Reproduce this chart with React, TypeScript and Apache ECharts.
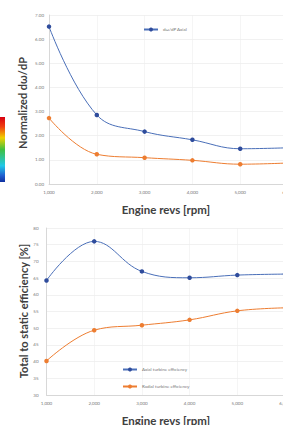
import React, { useEffect, useRef } from "react";
import * as echarts from "echarts";

const revs = [1000, 2000, 3000, 4000, 5000, 6000];
const dwdpAxial = [6.52, 2.86, 2.17, 1.83, 1.46, 1.5];
const dwdpRadial = [2.73, 1.23, 1.09, 0.98, 0.82, 0.87];
const effAxial = [64.3, 76.0, 67.0, 65.1, 65.9, 66.2];
const effRadial = [40.2, 49.4, 50.9, 52.5, 55.2, 56.1];

const BLUE = "#4a6fb8";
const BLUE_M = "#2f4c9c";
const ORANGE = "#ed7d31";
const FONT = "Lato";

export default function App() {
  const ref = useRef<HTMLDivElement>(null);
  useEffect(() => {
    if (!ref.current) return;
    const chart = echarts.init(ref.current, null, { renderer: "svg" });
    const pairs = (ys: number[]) => revs.map((x, i) => [x, ys[i]]);
    const xAxisBase = (gridIndex: number) => ({
      type: "value" as const,
      gridIndex,
      min: 1000,
      max: 6000,
      interval: 1000,
      axisLine: { show: true, lineStyle: { color: "#d0d0d0", width: 0.8 } },
      axisTick: { show: false },
      axisLabel: { fontSize: 4.5, color: "#777", margin: 6, fontFamily: FONT },
      splitLine: { show: true, lineStyle: { color: "#efefef", width: 0.6 } },
    });
    const lineSeries = (name: string, ys: number[], idx: number, color: string, mcolor: string) => ({
      type: "line" as const,
      name,
      xAxisIndex: idx,
      yAxisIndex: idx,
      data: pairs(ys),
      smooth: 0.4,
      symbol: "circle",
      symbolSize: 4.5,
      lineStyle: { color, width: 1 },
      itemStyle: { color: mcolor },
    });
    chart.setOption({
      animation: false,
      backgroundColor: "#ffffff",
      grid: [
        { left: 49, right: 22, top: 15, height: 169 },
        { left: 46.5, right: 25, top: 228, height: 167 },
      ],
      xAxis: [xAxisBase(0), xAxisBase(1)],
      yAxis: [
        {
          type: "value",
          gridIndex: 0,
          min: 0,
          max: 7,
          interval: 1,
          axisLine: { show: true, lineStyle: { color: "#d0d0d0", width: 0.8 } },
          axisTick: { show: false },
          axisLabel: { fontSize: 4.5, color: "#777", margin: 5, fontFamily: FONT, formatter: (v: number) => v.toFixed(2) },
          splitLine: { show: true, lineStyle: { color: "#e8e8e8", width: 0.6 } },
        },
        {
          type: "value",
          gridIndex: 1,
          min: 30,
          max: 80,
          interval: 5,
          axisLine: { show: true, lineStyle: { color: "#d0d0d0", width: 0.8 } },
          axisTick: { show: false },
          axisLabel: { fontSize: 4.5, color: "#777", margin: 8, fontFamily: FONT },
          splitLine: { show: true, lineStyle: { color: "#e8e8e8", width: 0.6 } },
        },
      ],
      legend: [
        {
          data: ["dω/dP Axial"],
          left: 138,
          top: 22,
          itemWidth: 14,
          itemHeight: 5,
          textStyle: { fontSize: 4.5, color: "#777", fontFamily: FONT },
        },
        {
          data: ["Axial turbine efficiency", "Radial turbine efficiency"],
          orient: "vertical",
          left: 117,
          top: 362,
          itemGap: 12,
          itemWidth: 14,
          itemHeight: 5,
          textStyle: { fontSize: 4.5, color: "#777", fontFamily: FONT },
        },
      ],
      series: [
        lineSeries("dω/dP Axial", dwdpAxial, 0, BLUE, BLUE_M),
        lineSeries("dω/dP Radial", dwdpRadial, 0, ORANGE, ORANGE),
        lineSeries("Axial turbine efficiency", effAxial, 1, BLUE, BLUE_M),
        lineSeries("Radial turbine efficiency", effRadial, 1, ORANGE, ORANGE),
      ],
      graphic: [
        {
          type: "rect",
          shape: { x: 0, y: 117, width: 5, height: 65 },
          style: {
            fill: new echarts.graphic.LinearGradient(0, 0, 0, 1, [
              { offset: 0, color: "#d80010" },
              { offset: 0.15, color: "#f04010" },
              { offset: 0.32, color: "#f0d000" },
              { offset: 0.5, color: "#40c040" },
              { offset: 0.75, color: "#20c8e8" },
              { offset: 0.9, color: "#2060d0" },
              { offset: 1, color: "#1030a0" },
            ]),
          },
        },
        {
          type: "text",
          x: 22,
          y: 103,
          rotation: Math.PI / 2,
          style: { text: "Normalized dω/dP", fontSize: 11, fontWeight: "bold", fontFamily: FONT, fill: "#404040", align: "center", verticalAlign: "middle" },
        },
        {
          type: "text",
          x: 23,
          y: 311,
          rotation: Math.PI / 2,
          style: { text: "Total to static efficiency [%]", fontSize: 11, fontWeight: "bold", fontFamily: FONT, fill: "#404040", align: "center", verticalAlign: "middle" },
        },
        {
          type: "text",
          x: 166,
          y: 209,
          style: { text: "Engine revs [rpm]", fontSize: 11.5, fontWeight: "bold", fontFamily: FONT, fill: "#404040", align: "center", verticalAlign: "middle" },
        },
        {
          type: "text",
          x: 166,
          y: 420,
          style: { text: "Engine revs [rpm]", fontSize: 11.5, fontWeight: "bold", fontFamily: FONT, fill: "#404040", align: "center", verticalAlign: "middle" },
        },
      ],
    });
    return () => chart.dispose();
  }, []);
  return (
    <div style={{ position: "fixed", left: 0, top: 0, width: 283, height: 425, overflow: "hidden", background: "#fff" }}>
      <div ref={ref} style={{ width: 310, height: 425 }} />
    </div>
  );
}
